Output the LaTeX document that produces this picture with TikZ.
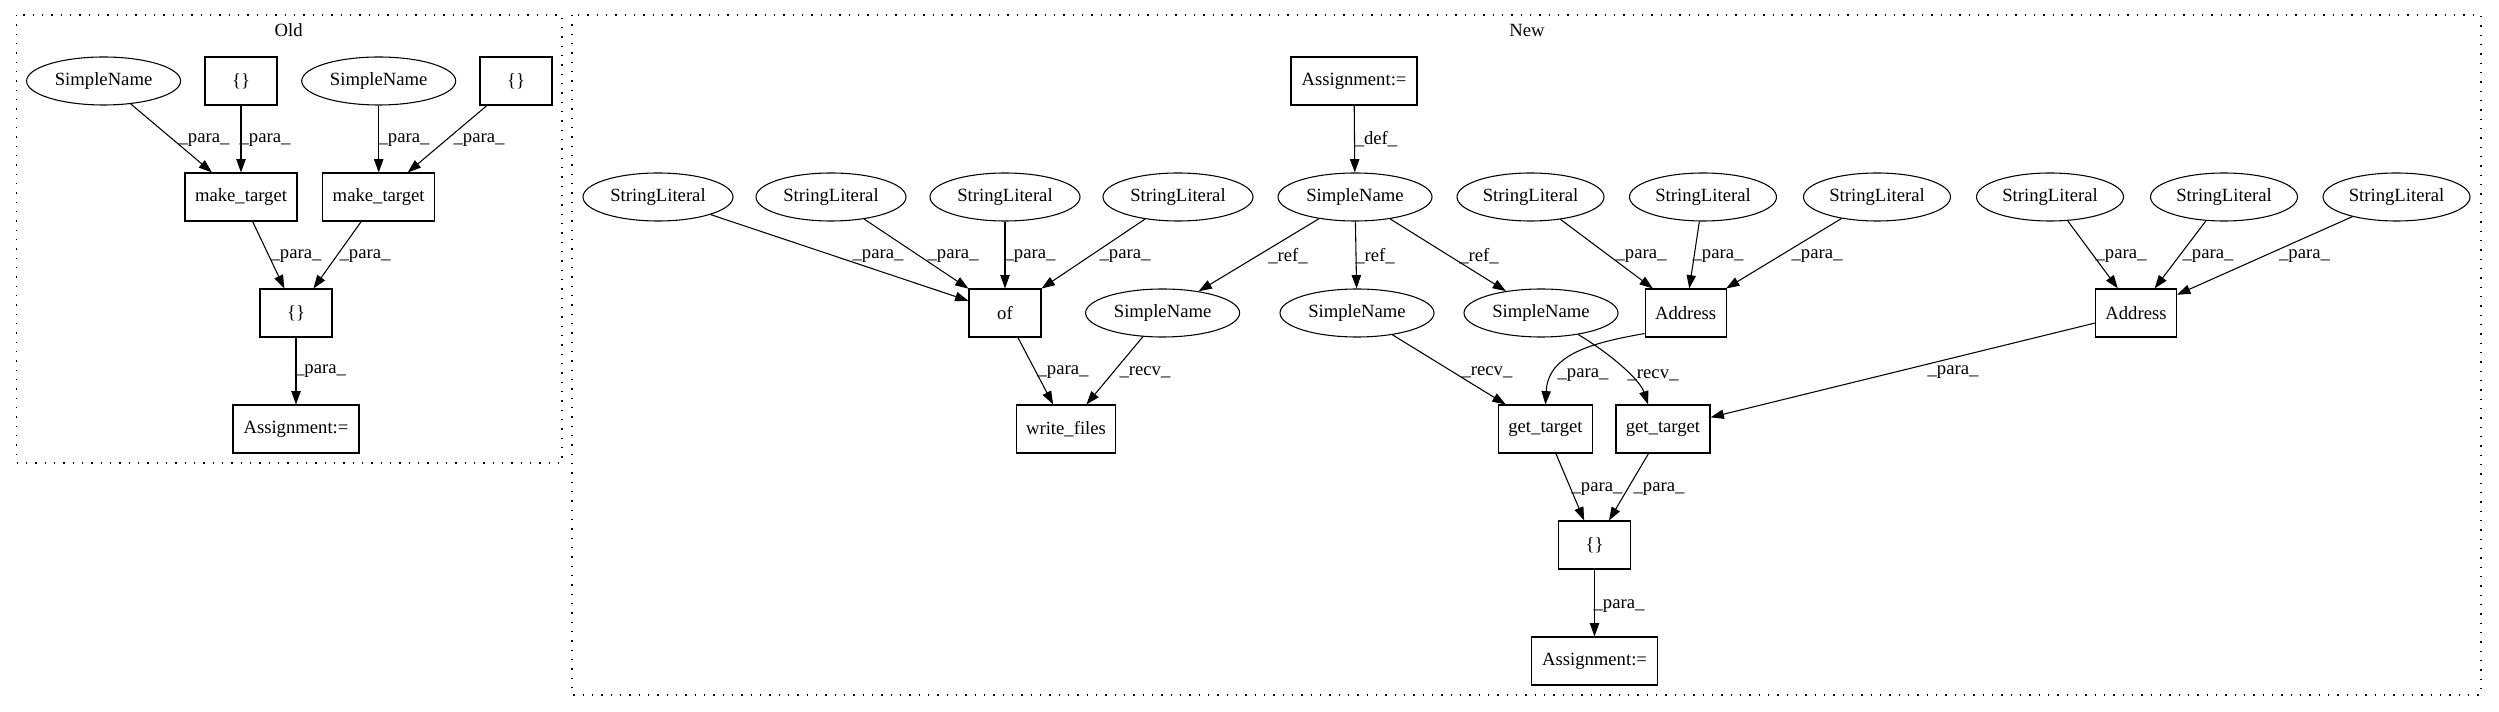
\documentclass[tikz,border=0pt]{standalone}
\usepackage{fontspec}
\setmainfont{Liberation Serif}
\usetikzlibrary{arrows.meta,shapes.geometric}
\begin{document}
\begin{tikzpicture}[x=0.75pt,y=-0.75pt,
  every node/.style={font=\fontsize{14pt}{16pt}\selectfont},
  box/.style={draw,line width=0.8pt,rectangle,minimum height=36pt,inner sep=0pt},
  ell/.style={draw,line width=0.8pt,ellipse,minimum height=36pt,inner sep=0pt},
  sn/.style={ell,minimum width=115.5pt},
  sl/.style={ell,minimum width=112.5pt},
  slr/.style={ell,minimum width=110.25pt},
  conn/.style={draw,line width=0.8pt,-{Triangle[length=10pt,width=7pt]}},
  lbl/.style={inner sep=0pt},
  cluster/.style={draw,line width=0.8pt,dash pattern=on 1pt off 6pt}]
\useasboundingbox (0,0) rectangle (2499,712);
% clusters
\draw[cluster] (16.6,15) rectangle (562,463);
\draw[cluster] (572,15) rectangle (2481,695);
\node (oldlbl) at (288.6,30) {Old};
\node (newlbl) at (1527,30) {New};
% Old nodes
\node[sn] (osn1) at (103.6,81) {SimpleName};
\node[box,minimum width=54pt] (ob1) at (241,81) {\{\}};
\node[sn] (osn2) at (378.7,81) {SimpleName};
\node[box,minimum width=54pt] (ob2) at (516,81) {\{\}};
\node[box,minimum width=84pt] (omt1) at (241,197) {make\_target};
\node[box,minimum width=84pt] (omt2) at (378.7,197) {make\_target};
\node[box,minimum width=54pt] (obr) at (296,313) {\{\}};
\node[box,minimum width=94.5pt] (oas) at (296,429) {Assignment:=};
% Old edges
\path[conn] (osn1) -- (omt1);
\path[conn] (ob1) -- (omt1);
\path[conn] (osn2) -- (omt2);
\path[conn] (ob2) -- (omt2);
\path[conn] (omt1) -- (obr);
\path[conn] (omt2) -- (obr);
\path[conn] (obr) -- (oas);
\node[lbl] (ol1) at (204,140) {\_para\_};
\node[lbl] (ol2) at (265,140) {\_para\_};
\node[lbl] (ol3) at (404,140) {\_para\_};
\node[lbl] (ol4) at (479,140) {\_para\_};
\node[lbl] (ol5) at (296,256) {\_para\_};
\node[lbl] (ol6) at (365,256) {\_para\_};
\node[lbl] (ol7) at (320.5,371) {\_para\_};
% New nodes
\node[box,minimum width=94.5pt] (nas1) at (1354,81) {Assignment:=};
\node[sl] (sl1) at (658,197) {StringLiteral};
\node[sl] (sl2) at (831,197) {StringLiteral};
\node[sl] (sl3) at (1005,197) {StringLiteral};
\node[sl] (sl4) at (1178,197) {StringLiteral};
\node[sn] (nsn) at (1355,197) {SimpleName};
\node[slr] (sl5) at (1530.5,197) {StringLiteral};
\node[slr] (sl6) at (1703,197) {StringLiteral};
\node[slr] (sl7) at (1877,197) {StringLiteral};
\node[slr] (sl8) at (2050,197) {StringLiteral};
\node[slr] (sl9) at (2224,197) {StringLiteral};
\node[slr] (sl10) at (2396.5,197) {StringLiteral};
\node[box,minimum width=54pt] (of) at (1005,313) {of};
\node[sn] (snr) at (1162.6,313) {SimpleName};
\node[sn] (snA) at (1357,313) {SimpleName};
\node[sn] (snB) at (1541,313) {SimpleName};
\node[box,minimum width=60.75pt] (addr1) at (1685.6,313) {Address};
\node[box,minimum width=60.75pt] (addr2) at (2136,313) {Address};
\node[box,minimum width=74.25pt] (wf) at (1066,429) {write\_files};
\node[box,minimum width=70.5pt] (gt1) at (1545.5,429) {get\_target};
\node[box,minimum width=70.5pt] (gt2) at (1663,429) {get\_target};
\node[box,minimum width=54pt] (nbr) at (1594.5,545) {\{\}};
\node[box,minimum width=94.5pt] (nas2) at (1594.5,661) {Assignment:=};
% New edges
\path[conn] (nas1) -- (nsn);
\path[conn] (sl1) -- (of);
\path[conn] (sl2) -- (of);
\path[conn] (sl3) -- (of);
\path[conn] (sl4) -- (of);
\path[conn] (nsn) -- (snr);
\path[conn] (nsn) -- (snA);
\path[conn] (nsn) -- (snB);
\path[conn] (sl5) -- (addr1);
\path[conn] (sl6) -- (addr1);
\path[conn] (sl7) -- (addr1);
\path[conn] (sl8) -- (addr2);
\path[conn] (sl9) -- (addr2);
\path[conn] (sl10) -- (addr2);
\path[conn] (of) -- (wf);
\path[conn] (snr) -- (wf);
\path[conn] (snA) -- (gt1);
\path[conn] ([yshift=3pt]addr1.south west) .. controls (1590,343) and (1548,355) .. (gt1.north);
\path[conn] (snB.-30) .. controls (1612,355) and (1640,380) .. ([xshift=-11.25pt]gt2.north);
\path[conn] (addr2) -- (gt2);
\path[conn] (gt1) -- (nbr);
\path[conn] (gt2) -- (nbr);
\path[conn] (nbr) -- (nas2);
% New labels
\node[lbl] (nl1) at (1376,139) {\_def\_};
\node[lbl] (nl2) at (878,256) {\_para\_};
\node[lbl] (nl3) at (953,256) {\_para\_};
\node[lbl] (nl4) at (1030,256) {\_para\_};
\node[lbl] (nl5) at (1125,256) {\_para\_};
\node[lbl] (nl6) at (1288,256) {\_ref\_};
\node[lbl] (nl7) at (1375,256) {\_ref\_};
\node[lbl] (nl8) at (1479,256) {\_ref\_};
\node[lbl] (nl9) at (1641,256) {\_para\_};
\node[lbl] (nl10) at (1718,256) {\_para\_};
\node[lbl] (nl11) at (1817,256) {\_para\_};
\node[lbl] (nl12) at (2121,256) {\_para\_};
\node[lbl] (nl13) at (2208,256) {\_para\_};
\node[lbl] (nl14) at (2304.5,256) {\_para\_};
\node[lbl] (nl15) at (1063,372) {\_para\_};
\node[lbl] (nl16) at (1145,372) {\_recv\_};
\node[lbl] (nl17) at (1487,372) {\_recv\_};
\node[lbl] (nl18) at (1583,375) {\_para\_};
\node[lbl] (nl19) at (1653,375) {\_recv\_};
\node[lbl] (nl20) at (1953,372) {\_para\_};
\node[lbl] (nl21) at (1597,489) {\_para\_};
\node[lbl] (nl22) at (1659,489) {\_para\_};
\node[lbl] (nl23) at (1619,606) {\_para\_};
\end{tikzpicture}
\end{document}
